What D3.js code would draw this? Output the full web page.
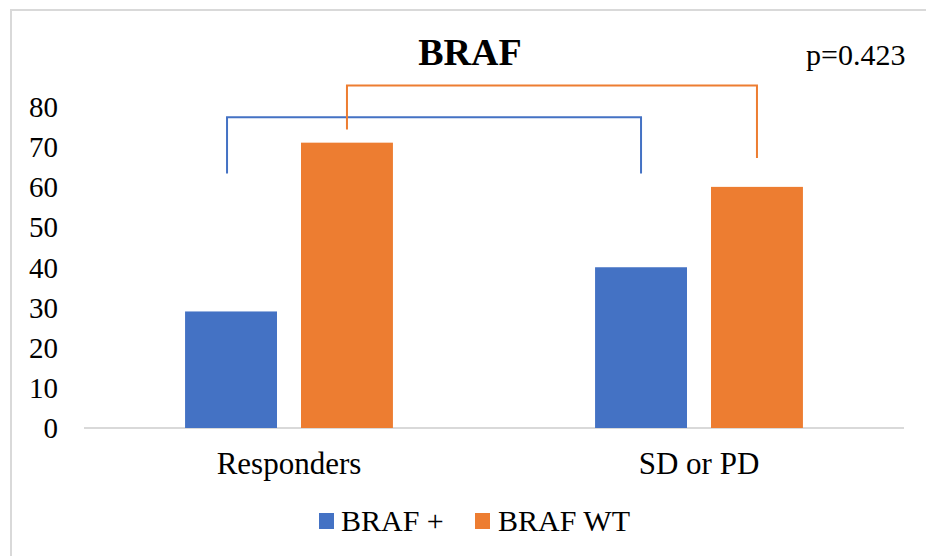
<!DOCTYPE html>
<html>
<head>
<meta charset="utf-8">
<script src="https://cdn.jsdelivr.net/npm/d3@7"></script>
<style>
  html, body { margin: 0; padding: 0; background: #fff; }
  svg { display: block; }
  text { font-family: "Liberation Serif", "Times New Roman", serif; fill: #000; }
</style>
</head>
<body>
<svg id="chart" width="926" height="556"></svg>
<script>
// ---- data ----
const categories = ["Responders", "SD or PD"];
const seriesNames = ["BRAF +", "BRAF WT"];
const brafPlus = [29, 40];
const brafWT = [71, 60];
const yTicks = [0, 10, 20, 30, 40, 50, 60, 70, 80];
const titleText = "BRAF";
const pValueText = "p=0.423";
// bracket levels (in value units): [left end, top, right end]
const bracketPlus = [63.3, 77.3, 63.3];
const bracketWT = [74.3, 85.2, 67.2];

const colors = ["#4472C4", "#ED7D31"];
const seriesValues = [brafPlus, brafWT];

const svg = d3.select("#chart");

// frame
svg.append("rect")
  .attr("x", 11).attr("y", 10)
  .attr("width", 1000).attr("height", 1000)
  .attr("fill", "none").attr("stroke", "#d9d9d9").attr("stroke-width", 2);

const x0 = d3.scaleBand().domain(categories).range([84, 904])
  .paddingInner(0.493).paddingOuter(0.2465);
const x1 = d3.scaleBand().domain(seriesNames).range([0, x0.bandwidth()])
  .paddingInner(0.207);
const y = d3.scaleLinear().domain([0, 80]).range([428, 106.5]);

// baseline
svg.append("line")
  .attr("x1", 84).attr("x2", 904)
  .attr("y1", y(0)).attr("y2", y(0))
  .attr("stroke", "#d9d9d9").attr("stroke-width", 2);

// y tick labels
const yAxis = d3.axisLeft(y).tickValues(yTicks).tickSize(0).tickPadding(0);
const yg = svg.append("g").attr("transform", "translate(58,0)").call(yAxis);
yg.select(".domain").remove();
yg.selectAll("text")
  .attr("font-family", "Liberation Serif")
  .attr("font-size", 29)
  .attr("fill", "#000")
  .attr("dy", "0.34em");

// bars
categories.forEach((cat, ci) => {
  seriesNames.forEach((s, si) => {
    const v = seriesValues[si][ci];
    svg.append("rect")
      .attr("x", x0(cat) + x1(s))
      .attr("y", y(v))
      .attr("width", x1.bandwidth())
      .attr("height", y(0) - y(v))
      .attr("fill", colors[si]);
  });
});

// category labels
const xAxis = d3.axisBottom(x0).tickSize(0).tickPadding(0);
const xg = svg.append("g").attr("transform", `translate(0,${y(0)})`).call(xAxis);
xg.select(".domain").remove();
xg.selectAll("text")
  .attr("font-family", "Liberation Serif")
  .attr("font-size", 31)
  .attr("fill", "#000")
  .attr("dy", null)
  .attr("y", 46);

// brackets
function bracket(levels, si, color, leftShift) {
  const xl = x0(categories[0]) + x1(seriesNames[si]) + x1.bandwidth() / 2 - leftShift;
  const xr = x0(categories[1]) + x1(seriesNames[si]) + x1.bandwidth() / 2;
  const pts = [[xl, y(levels[0])], [xl, y(levels[1])], [xr, y(levels[1])], [xr, y(levels[2])]];
  svg.append("path")
    .attr("d", d3.line()(pts))
    .attr("fill", "none")
    .attr("stroke", color)
    .attr("stroke-width", 2);
}
bracket(bracketPlus, 0, colors[0], 4);
bracket(bracketWT, 1, colors[1], 0);

// title
svg.append("text")
  .attr("x", 470).attr("y", 65)
  .attr("text-anchor", "middle")
  .attr("font-weight", "bold")
  .attr("font-size", 38)
  .text(titleText);

// p value
svg.append("text")
  .attr("x", 806).attr("y", 65)
  .attr("font-size", 30)
  .text(pValueText);

// legend
const legend = svg.append("g");
const legendItems = [{x: 319, tx: 341}, {x: 475, tx: 498}];
seriesNames.forEach((s, i) => {
  legend.append("rect")
    .attr("x", legendItems[i].x).attr("y", 513)
    .attr("width", 15).attr("height", 16)
    .attr("fill", colors[i]);
  legend.append("text")
    .attr("x", legendItems[i].tx).attr("y", 531)
    .attr("font-size", 30)
    .text(s);
});
</script>
</body>
</html>
